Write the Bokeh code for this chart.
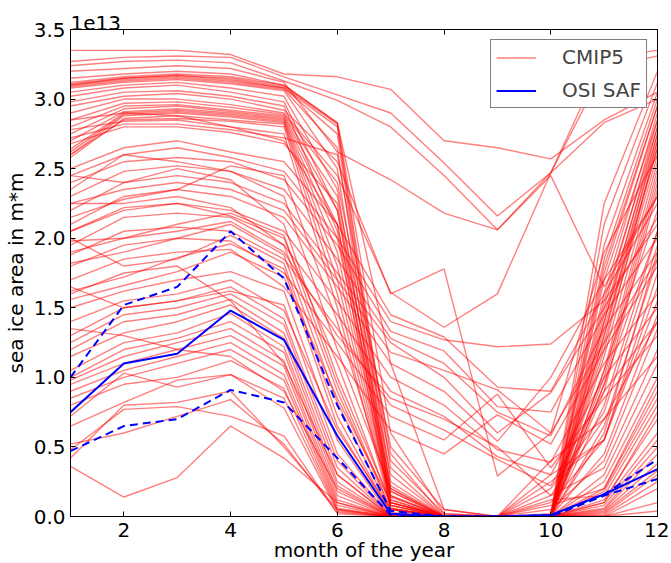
from bokeh.plotting import figure
from bokeh.models import Range1d, FixedTicker, PrintfTickFormatter, LinearAxis
from bokeh.embed import file_html
from bokeh.resources import INLINE

months = [1, 2, 3, 4, 5, 6, 7, 8, 9, 10, 11, 12]
x_ticks = [2, 4, 6, 8, 10, 12]
y_ticks = [0.0, 0.5, 1.0, 1.5, 2.0, 2.5, 3.0, 3.5]

# sea ice area in units of 1e13 m*m
osi_mean = [0.75, 1.10, 1.17, 1.48, 1.27, 0.58, 0.02, 0.00, 0.00, 0.01, 0.16, 0.34]
osi_upper = [1.00, 1.52, 1.65, 2.05, 1.71, 0.80, 0.04, 0.00, 0.00, 0.01, 0.16, 0.41]
osi_lower = [0.47, 0.65, 0.70, 0.91, 0.82, 0.42, 0.01, 0.00, 0.00, 0.00, 0.15, 0.27]

c01 = [3.35, 3.35, 3.35, 3.32, 3.18, 3.16, 3.07, 2.70, 2.65, 2.57, 2.85, 3.05]
c02 = [3.27, 3.30, 3.31, 3.30, 3.16, 3.03, 2.90, 2.54, 2.16, 2.47, 3.30, 3.35]
c03 = [3.24, 3.27, 3.28, 3.26, 3.13, 2.99, 2.80, 2.45, 2.06, 2.47, 3.22, 3.31]
c04 = [3.20, 3.22, 3.24, 3.22, 3.12, 2.62, 2.42, 2.18, 2.06, 2.45, 1.65, 2.30]
c05 = [3.15, 3.18, 3.20, 3.18, 3.10, 2.83, 1.10, 0.05, 0.00, 0.02, 2.25, 3.20]
c06 = [3.12, 3.16, 3.18, 3.16, 3.10, 2.83, 0.60, 0.02, 0.00, 0.01, 2.10, 3.12]
c07 = [3.11, 3.15, 3.17, 3.15, 3.09, 2.82, 0.35, 0.00, 0.00, 0.00, 1.95, 3.05]
c08 = [3.10, 3.15, 3.17, 3.14, 3.08, 2.80, 0.25, 0.00, 0.00, 0.00, 1.85, 3.00]
c09 = [3.10, 3.14, 3.16, 3.13, 3.08, 2.75, 0.18, 0.00, 0.00, 0.00, 1.75, 2.95]
c10 = [3.09, 3.13, 3.15, 3.12, 3.07, 2.65, 0.12, 0.00, 0.00, 0.00, 1.60, 2.90]
c11 = [3.08, 3.12, 3.14, 3.11, 3.06, 2.50, 0.10, 0.00, 0.00, 0.00, 1.50, 2.85]
c12 = [3.05, 3.10, 3.12, 3.08, 3.02, 2.35, 0.08, 0.00, 0.00, 0.00, 1.40, 2.80]
c13 = [3.02, 3.08, 3.10, 3.05, 2.98, 2.20, 0.06, 0.00, 0.00, 0.00, 1.30, 2.75]
c14 = [2.98, 3.05, 3.06, 3.02, 2.95, 2.05, 0.05, 0.00, 0.00, 0.00, 1.20, 2.70]
c15 = [2.95, 3.02, 3.04, 3.00, 2.92, 2.55, 1.60, 1.78, 0.29, 0.60, 1.90, 2.60]
c16 = [2.90, 3.00, 3.00, 2.96, 2.90, 2.45, 1.61, 1.36, 1.60, 2.47, 2.83, 3.00]
c17 = [2.85, 2.97, 2.98, 2.94, 2.89, 2.40, 0.50, 0.05, 0.00, 0.00, 1.70, 2.85]
c18 = [2.80, 2.95, 2.96, 2.92, 2.88, 2.30, 0.40, 0.02, 0.00, 0.00, 1.55, 2.80]
c19 = [2.75, 2.93, 2.95, 2.91, 2.87, 2.20, 0.30, 0.00, 0.00, 0.00, 1.45, 2.75]
c20 = [2.70, 2.91, 2.93, 2.90, 2.86, 2.10, 0.22, 0.00, 0.00, 0.00, 1.35, 2.65]
c21 = [2.64, 2.90, 2.92, 2.89, 2.85, 2.00, 0.18, 0.00, 0.00, 0.00, 1.25, 2.60]
c22 = [2.62, 2.89, 2.91, 2.88, 2.84, 1.90, 0.14, 0.00, 0.00, 0.00, 1.15, 2.55]
c23 = [2.60, 2.88, 2.90, 2.87, 2.83, 1.80, 0.12, 0.00, 0.00, 0.00, 1.05, 2.50]
c24 = [2.58, 2.86, 2.88, 2.85, 2.82, 1.70, 0.10, 0.00, 0.00, 0.00, 1.00, 2.45]
c25 = [2.60, 2.85, 2.86, 2.84, 2.80, 1.60, 0.08, 0.00, 0.00, 0.00, 0.95, 2.40]
c26 = [2.78, 2.84, 2.85, 2.80, 2.75, 1.50, 0.06, 0.00, 0.00, 0.00, 0.90, 2.35]
c27 = [2.72, 2.82, 2.82, 2.78, 2.72, 2.60, 0.45, 0.00, 0.00, 0.00, 1.80, 2.95]
c28 = [2.68, 2.80, 2.80, 2.76, 2.68, 2.25, 0.20, 0.00, 0.00, 0.00, 1.40, 2.70]
c29 = [2.85, 2.90, 2.88, 2.80, 2.70, 2.10, 0.15, 0.00, 0.00, 0.00, 1.30, 2.65]
c30 = [2.50, 2.65, 2.70, 2.62, 2.55, 2.10, 1.45, 1.29, 0.93, 0.90, 1.60, 2.25]
c31 = [2.45, 2.60, 2.65, 2.58, 2.48, 2.00, 1.40, 1.27, 1.22, 1.24, 1.55, 2.10]
c32 = [2.40, 2.55, 2.58, 2.55, 2.42, 1.95, 1.33, 1.19, 0.79, 0.75, 1.45, 2.00]
c33 = [2.30, 2.48, 2.52, 2.48, 2.35, 1.85, 1.28, 1.10, 0.75, 0.58, 1.35, 1.90]
c34 = [2.20, 2.40, 2.45, 2.40, 2.25, 1.75, 1.25, 1.00, 0.60, 0.89, 1.50, 2.15]
c35 = [2.10, 2.30, 2.35, 2.30, 2.15, 1.65, 1.10, 0.90, 0.54, 1.00, 1.70, 2.30]
c36 = [2.05, 2.22, 2.25, 2.20, 2.05, 1.55, 1.00, 0.80, 0.48, 0.39, 1.10, 1.60]
c37 = [1.95, 2.15, 2.18, 2.15, 1.95, 1.45, 0.90, 0.72, 0.43, 0.30, 1.00, 1.50]
c38 = [1.88, 2.05, 2.08, 2.05, 1.85, 1.35, 0.80, 0.62, 0.41, 0.22, 0.90, 1.40]
c39 = [1.80, 1.95, 2.00, 1.98, 1.75, 1.25, 0.72, 0.55, 0.88, 0.35, 0.85, 1.30]
c40 = [1.70, 1.85, 1.90, 1.92, 1.65, 1.15, 0.62, 0.45, 0.73, 0.52, 1.20, 1.80]
c41 = [2.25, 2.35, 2.40, 2.35, 2.20, 1.70, 1.18, 1.05, 0.91, 0.60, 1.25, 1.85]
c42 = [1.98, 2.00, 2.05, 2.12, 1.90, 1.30, 0.85, 0.70, 0.50, 0.15, 0.70, 1.15]
c43 = [2.45, 2.40, 2.50, 2.42, 2.10, 1.00, 0.10, 0.00, 0.00, 0.00, 0.60, 1.90]
c44 = [2.35, 2.60, 2.55, 2.48, 2.30, 1.20, 0.20, 0.00, 0.00, 0.00, 0.80, 2.05]
c45 = [2.25, 2.25, 2.30, 2.22, 1.95, 0.90, 0.05, 0.00, 0.00, 0.10, 0.55, 1.75]
c46 = [2.15, 2.28, 2.35, 2.52, 2.45, 1.40, 0.15, 0.00, 0.00, 0.00, 1.05, 2.20]
c47 = [2.05, 2.20, 2.25, 2.16, 2.00, 1.10, 0.08, 0.00, 0.00, 0.20, 0.75, 1.95]
c48 = [1.90, 2.00, 2.10, 2.18, 2.02, 0.95, 0.05, 0.00, 0.00, 0.00, 0.65, 1.85]
c49 = [1.82, 1.90, 2.00, 2.10, 1.88, 0.82, 0.03, 0.00, 0.00, 0.30, 0.55, 1.55]
c50 = [2.00, 1.80, 1.85, 2.02, 1.82, 0.72, 0.02, 0.00, 0.00, 0.00, 0.45, 1.45]
c51 = [1.62, 1.72, 1.86, 1.96, 1.78, 0.65, 0.02, 0.00, 0.00, 0.05, 0.40, 1.35]
c52 = [1.56, 1.66, 1.76, 1.90, 1.72, 0.85, 0.10, 0.00, 0.00, 0.00, 0.95, 2.05]
c53 = [1.50, 1.62, 1.70, 1.76, 1.62, 0.55, 0.00, 0.00, 0.00, 0.15, 0.35, 1.20]
c54 = [1.65, 1.50, 1.55, 1.62, 1.52, 0.45, 0.00, 0.00, 0.00, 0.00, 0.30, 1.10]
c55 = [1.40, 1.55, 1.60, 1.70, 1.48, 0.62, 0.05, 0.00, 0.00, 0.25, 0.55, 1.65]
c56 = [1.30, 1.50, 1.55, 1.65, 1.42, 0.40, 0.00, 0.00, 0.00, 0.00, 0.25, 1.00]
c57 = [1.25, 1.45, 1.50, 1.60, 1.38, 0.35, 0.00, 0.00, 0.00, 0.08, 0.20, 0.95]
c58 = [1.20, 1.40, 1.45, 1.56, 1.32, 0.30, 0.00, 0.00, 0.00, 0.00, 0.18, 0.85]
c59 = [1.15, 1.32, 1.40, 1.52, 1.28, 0.25, 0.00, 0.00, 0.00, 0.12, 0.15, 0.80]
c60 = [1.05, 1.25, 1.32, 1.46, 1.22, 0.22, 0.00, 0.00, 0.00, 0.00, 0.12, 0.70]
c61 = [1.00, 1.20, 1.28, 1.40, 1.18, 0.18, 0.00, 0.00, 0.00, 0.40, 0.70, 1.40]
c62 = [0.98, 1.15, 1.25, 1.35, 1.12, 0.15, 0.00, 0.00, 0.00, 0.00, 0.10, 0.60]
c63 = [0.95, 1.10, 1.20, 1.30, 1.08, 0.12, 0.00, 0.00, 0.00, 0.00, 0.08, 0.55]
c64 = [0.90, 1.05, 1.15, 1.25, 1.02, 0.10, 0.00, 0.00, 0.00, 0.00, 0.06, 0.50]
c65 = [0.85, 1.00, 1.10, 1.20, 0.98, 0.08, 0.00, 0.00, 0.00, 0.00, 0.05, 0.45]
c66 = [0.80, 0.95, 1.00, 1.12, 0.92, 0.06, 0.00, 0.00, 0.00, 0.00, 0.04, 0.38]
c67 = [0.65, 0.82, 0.98, 1.02, 0.85, 0.05, 0.00, 0.00, 0.00, 0.00, 0.03, 0.33]
c68 = [0.72, 1.03, 0.93, 1.02, 0.78, 0.04, 0.00, 0.00, 0.00, 0.00, 0.02, 0.30]
c69 = [0.52, 0.60, 0.72, 0.84, 0.52, 0.03, 0.00, 0.00, 0.00, 0.00, 0.01, 0.25]
c70 = [0.48, 0.77, 0.79, 0.72, 0.58, 0.02, 0.00, 0.00, 0.00, 0.00, 0.00, 0.20]
c71 = [0.36, 0.14, 0.28, 0.65, 0.42, 0.10, 0.00, 0.00, 0.00, 0.00, 0.00, 0.04]
c72 = [0.42, 0.80, 0.82, 0.90, 0.50, 0.05, 0.00, 0.00, 0.00, 0.00, 0.00, 0.10]
c73 = [1.60, 1.75, 1.80, 1.55, 1.10, 0.30, 0.00, 0.00, 0.00, 0.00, 0.20, 0.90]
c74 = [1.35, 1.30, 1.20, 1.15, 0.90, 0.20, 0.00, 0.00, 0.00, 0.00, 0.10, 0.75]

cmip5 = [c01, c02, c03, c04, c05, c06, c07, c08, c09, c10, c11, c12, c13, c14,
         c15, c16, c17, c18, c19, c20, c21, c22, c23, c24, c25, c26, c27, c28,
         c29, c30, c31, c32, c33, c34, c35, c36, c37, c38, c39, c40, c41, c42,
         c43, c44, c45, c46, c47, c48, c49, c50, c51, c52, c53, c54, c55, c56,
         c57, c58, c59, c60, c61, c62, c63, c64, c65, c66, c67, c68, c69, c70,
         c71, c72, c73, c74]

FONT = "DejaVu Sans"
FS = "20px"

p = figure(frame_width=587, frame_height=487, x_range=Range1d(1, 12), y_range=Range1d(0, 3.5),
           output_backend="svg", toolbar_location=None, title="1e13",
           min_border_left=62, min_border_right=12, min_border_top=29, min_border_bottom=40)
p.xgrid.visible = False
p.ygrid.visible = False
p.outline_line_color = "black"
p.outline_line_width = 1
p.background_fill_color = "white"
p.border_fill_color = "white"

p.title.text_font = FONT
p.title.text_font_size = FS
p.title.text_font_style = "normal"
p.title.text_color = "black"
p.title.align = "left"
p.title.offset = 0
p.title.standoff = 0

p.multi_line(xs=[months] * len(cmip5), ys=cmip5, line_color="#ff0000",
             line_alpha=0.5, line_width=1.4, legend_label="CMIP5")
p.line(months, osi_mean, line_color="#0000ff", line_width=2, legend_label="OSI SAF")
p.line(months, osi_upper, line_color="#0000ff", line_width=2, line_dash="8 5")
p.line(months, osi_lower, line_color="#0000ff", line_width=2, line_dash="8 5")

def style_axis(ax):
    ax.major_tick_in = 5
    ax.major_tick_out = 0
    ax.minor_tick_line_color = None
    ax.axis_line_color = "black"
    ax.major_tick_line_color = "black"
    ax.major_label_text_font = FONT
    ax.major_label_text_font_size = FS
    ax.major_label_text_color = "black"
    ax.axis_label_text_font = FONT
    ax.axis_label_text_font_size = FS
    ax.axis_label_text_font_style = "normal"
    ax.axis_label_text_color = "black"

xa = p.xaxis[0]
xa.ticker = FixedTicker(ticks=x_ticks)
xa.axis_label = "month of the year"
xa.major_label_standoff = 6
xa.axis_label_standoff = -2
style_axis(xa)

ya = p.yaxis[0]
ya.ticker = FixedTicker(ticks=y_ticks)
ya.formatter = PrintfTickFormatter(format="%.1f")
ya.axis_label = "sea ice area in m*m"
ya.major_label_standoff = 5
ya.axis_label_standoff = 3
style_axis(ya)

top = LinearAxis(ticker=FixedTicker(ticks=x_ticks),
                 major_label_overrides={t: "" for t in x_ticks})
style_axis(top)
top.major_label_standoff = 5
top.major_label_text_font_size = "0px"
p.add_layout(top, "above")

right = LinearAxis(ticker=FixedTicker(ticks=y_ticks),
                   major_label_overrides={t: "" for t in y_ticks})
style_axis(right)
right.major_label_standoff = 0
right.major_label_text_font_size = "0px"
p.add_layout(right, "right")

lg = p.legend[0]
lg.location = "top_right"
lg.margin = 10
lg.border_line_color = "black"
lg.border_line_width = 1
lg.background_fill_color = "white"
lg.background_fill_alpha = 1
lg.label_text_font = FONT
lg.label_text_font_size = FS
lg.glyph_width = 40
lg.glyph_height = 21
lg.label_standoff = 26
lg.padding = 5
lg.spacing = 9

open("out.html", "w").write(file_html(p, INLINE))
